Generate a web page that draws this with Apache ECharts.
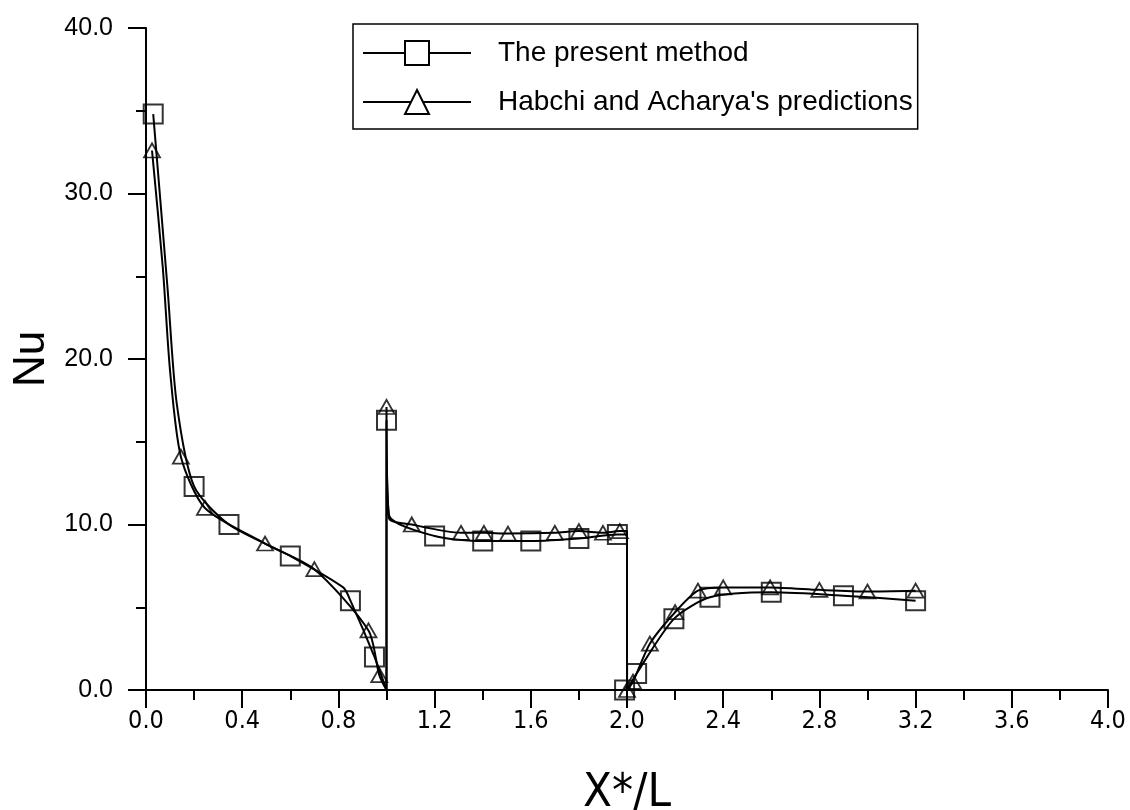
<!DOCTYPE html>
<html>
<head>
<meta charset="utf-8">
<script src="https://cdn.jsdelivr.net/npm/echarts@6/dist/echarts.min.js"></script>
<style>
  html, body { margin: 0; padding: 0; background: #fff; }
  #main { width: 1130px; height: 810px; }
</style>
</head>
<body>
<div id="main"></div>
<script>
// curve points (x*/L, Nu)
var presentLine = [
  [0.03, 34.8], [0.09, 24.2], [0.127, 17.4], [0.2, 12.3], [0.345, 10.0],
  [0.6, 8.1], [0.82, 6.2], [0.85, 5.4], [0.95, 2.0], [1.0, 0.0],
  [1.0, 16.3], [1.01, 10.6], [1.2, 9.3], [1.4, 9.0], [1.6, 9.0],
  [1.8, 9.15], [1.96, 9.4], [2.0, 9.4], [2.0, 0.0], [2.04, 1.0],
  [2.195, 4.3], [2.345, 5.6], [2.6, 5.9], [2.9, 5.7], [3.2, 5.4]
];
var presentMarks = [
  [0.03, 34.8], [0.2, 12.3], [0.345, 10.0], [0.6, 8.1], [0.85, 5.4],
  [0.95, 2.0], [1.0, 16.3], [1.2, 9.3], [1.4, 9.0], [1.6, 9.0],
  [1.8, 9.15], [1.96, 9.4], [1.99, 0.0], [2.04, 1.0], [2.195, 4.3],
  [2.345, 5.6], [2.6, 5.9], [2.9, 5.7], [3.2, 5.4]
];
var habchiLine = [
  [0.025, 32.6], [0.07, 25.5], [0.1, 19.3], [0.145, 14.1], [0.245, 11.0],
  [0.495, 8.85], [0.7, 7.3], [0.925, 3.6], [0.97, 0.9], [1.0, 0.0],
  [1.0, 17.1], [1.01, 10.4], [1.105, 10.0], [1.31, 9.5], [1.405, 9.5],
  [1.505, 9.45], [1.7, 9.5], [1.8, 9.6], [1.9, 9.5], [1.97, 9.6],
  [2.0, 9.6], [2.0, 0.0], [2.025, 0.5], [2.095, 2.8], [2.2, 4.7],
  [2.295, 6.0], [2.4, 6.2], [2.595, 6.2], [2.8, 6.05], [3.0, 5.95], [3.2, 6.0]
];
var habchiMarks = [
  [0.025, 32.6], [0.145, 14.1], [0.245, 11.0], [0.495, 8.85], [0.7, 7.3],
  [0.925, 3.6], [0.97, 0.9], [1.0, 17.1], [1.105, 10.0], [1.31, 9.5],
  [1.405, 9.5], [1.505, 9.45], [1.7, 9.5], [1.8, 9.6], [1.9, 9.5],
  [1.97, 9.6], [2.0, 0.0], [2.025, 0.5], [2.095, 2.8], [2.2, 4.7],
  [2.295, 6.0], [2.4, 6.2], [2.595, 6.2], [2.8, 6.05], [3.0, 5.95], [3.2, 6.0]
];
var seriesNames = ['The present method', "Habchi and Acharya's predictions"];

var chart = echarts.init(document.getElementById('main'));
var font = "'Liberation Sans', Arial, sans-serif";
var narrow = "'Liberation Sans Narrow', 'Arial Narrow', 'DejaVu Sans Condensed', sans-serif";

var option = {
  backgroundColor: '#fff',
  animation: false,
  grid: { left: 146, right: 22, top: 28, bottom: 120, outerBoundsMode: 'none' },
  legend: {
    data: seriesNames,
    orient: 'vertical',
    left: 353,
    top: 24,
    padding: [15, 5, 13, 9],
    itemGap: 21,
    itemWidth: 108,
    itemHeight: 30,
    borderColor: '#000',
    borderWidth: 1.5,
    borderRadius: 0,
    textStyle: { color: '#000', fontSize: 28, fontFamily: font, padding: [0, 0, 0, 22] }
  },
  xAxis: {
    type: 'value',
    min: 0, max: 4, interval: 0.4,
    name: 'X*/L',
    nameLocation: 'middle',
    nameGap: 80,
    nameTextStyle: { color: '#000', fontSize: 47, fontFamily: narrow },
    axisLine: { lineStyle: { color: '#000', width: 2 } },
    axisTick: { length: 18, lineStyle: { color: '#000', width: 2 } },
    minorTick: { show: true, splitNumber: 2, length: 10, lineStyle: { color: '#000', width: 2 } },
    splitLine: { show: false },
    axisLabel: {
      color: '#000', fontSize: 25, fontFamily: narrow, margin: 19,
      formatter: function (v) { return v.toFixed(1); }
    }
  },
  yAxis: {
    type: 'value',
    min: 0, max: 40, interval: 10,
    name: 'Nu',
    nameLocation: 'middle',
    nameGap: 92,
    nameTextStyle: { color: '#000', fontSize: 44, fontFamily: font },
    axisLine: { lineStyle: { color: '#000', width: 2 } },
    axisTick: { length: 18, lineStyle: { color: '#000', width: 2 } },
    minorTick: { show: true, splitNumber: 2, length: 10, lineStyle: { color: '#000', width: 2 } },
    splitLine: { show: false },
    axisLabel: {
      color: '#000', fontSize: 25, fontFamily: font, margin: 33,
      formatter: function (v) { return v.toFixed(1); }
    }
  },
  series: [
    {
      name: seriesNames[0],
      type: 'line',
      data: presentLine,
      smooth: 0.25,
      symbol: 'emptyRect',
      showSymbol: false,
      color: '#000',
      lineStyle: { color: '#000', width: 2 }
    },
    {
      name: seriesNames[1],
      type: 'line',
      data: habchiLine,
      smooth: 0.25,
      symbol: 'emptyTriangle',
      showSymbol: false,
      color: '#000',
      lineStyle: { color: '#000', width: 2 }
    },
    {
      name: 'presentMarks',
      type: 'scatter',
      data: presentMarks,
      symbol: 'rect',
      symbolSize: 19,
      itemStyle: { color: 'rgba(0,0,0,0)', borderColor: '#000', borderWidth: 2 },
      z: 3
    },
    {
      name: 'habchiMarks',
      type: 'scatter',
      data: habchiMarks,
      symbol: 'triangle',
      symbolSize: [16, 14],
      itemStyle: { color: 'rgba(0,0,0,0)', borderColor: '#000', borderWidth: 1.8 },
      z: 3
    }
  ]
};
chart.setOption(option);
</script>
</body>
</html>
